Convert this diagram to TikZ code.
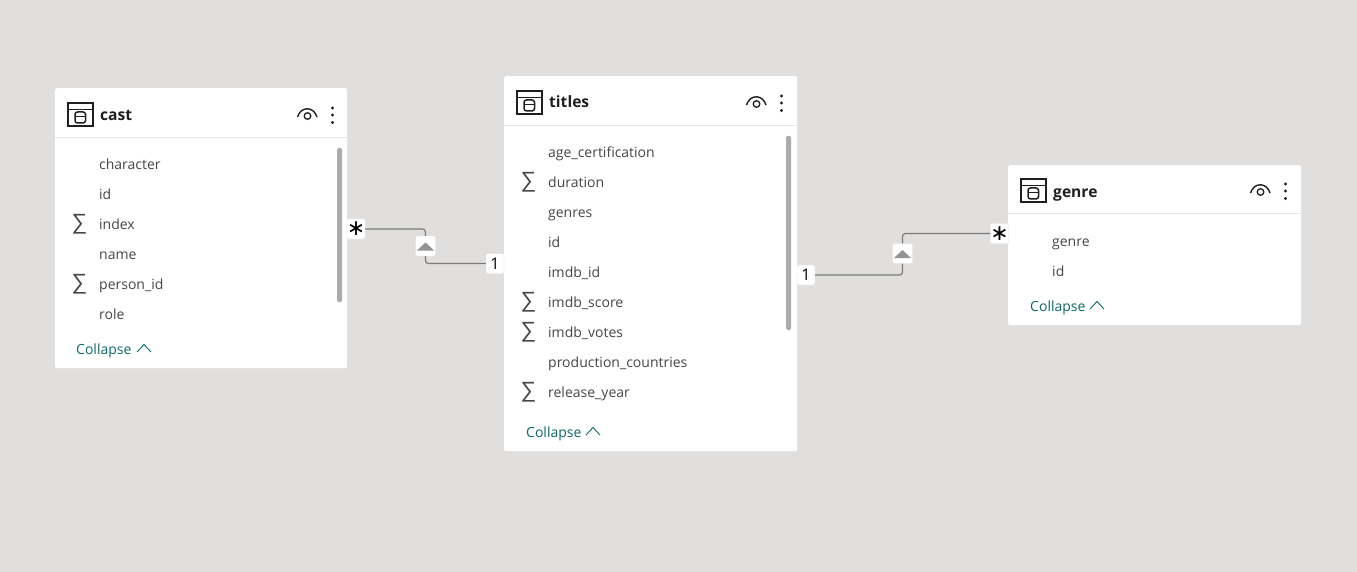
\documentclass[tikz,border=0pt]{standalone}
\usepackage{fontspec}
\setmainfont{Open Sans}
\newfontfamily\symfont{DejaVu Sans}
\newfontfamily\sumfont{Liberation Sans}
\definecolor{canvasgray}{HTML}{E1DFDD}
\definecolor{rowtext}{HTML}{484644}
\definecolor{headtext}{HTML}{201F1E}
\definecolor{linkteal}{HTML}{0E6A68}
\definecolor{barGray}{HTML}{ABABAB}
\definecolor{relgray}{HTML}{7A7A7A}
\tikzset{
  card/.style={fill=white, rounded corners=2pt, anchor=north west, inner sep=0pt},
  headlabel/.style={anchor=west, text=headtext, font=\fontsize{15.6}{18}\selectfont\bfseries, inner sep=0pt, text height=11pt, text depth=3pt},
  rowlabel/.style={anchor=west, text=rowtext, font=\fontsize{14}{16}\selectfont, inner sep=0pt, text height=10pt, text depth=3pt},
  sumlabel/.style={text=rowtext, font=\sumfont\fontsize{22}{24}\selectfont, inner sep=0pt},
  collapselabel/.style={anchor=west, text=linkteal, font=\fontsize{14}{16}\selectfont, inner sep=0pt, text height=10pt, text depth=3pt},
  endbadge/.style={fill=white, draw=black!12, line width=0.3pt, rounded corners=2pt, minimum width=18pt, minimum height=20pt, inner sep=0pt, text=black},
  filterbadge/.style={fill=white, draw=black!12, line width=0.3pt, rounded corners=2pt, minimum width=20pt, minimum height=20pt, inner sep=0pt},
  relline/.style={draw=relgray, line width=1.2pt, rounded corners=3pt}
}
\begin{document}
\begin{tikzpicture}[x=1pt,y=-1pt]
\useasboundingbox (0,0) rectangle (1357,572);
\fill[canvasgray] (0,0) rectangle (1357,572);
\node[card, minimum width=292pt, minimum height=280pt] (cast) at (55,88) {};
\node[card, minimum width=293pt, minimum height=375pt] (titles) at (504,76) {};
\node[card, minimum width=293pt, minimum height=160pt] (genre) at (1008,165) {};
% header rules, scroll bars
\draw[black!10] (55,137.5) -- (347,137.5);\draw[black!10] (504,125.5) -- (797,125.5);\draw[black!10] (1008,213.5) -- (1301,213.5);
\fill[barGray, rounded corners=1.5pt] (337,148) rectangle (342,302);\fill[barGray, rounded corners=1.5pt] (786,136) rectangle (791,330);
% table icons, eyes, dots
\foreach \x/\y in {68/103.5,517/91.5,1021/179.5} {
  \draw[headtext, line width=2pt] (\x,\y) rectangle (\x+24.5,\y+22.5);\draw[headtext, line width=1.6pt] (\x,\y+6) -- (\x+24.5,\y+6);
  \draw[headtext, line width=1.5pt, rounded corners=2.5pt] (\x+7,\y+8.5) rectangle (\x+17.5,\y+19.5);\draw[headtext, line width=1.2pt] (\x+7,\y+13) -- (\x+17.5,\y+13);
  \draw[headtext, line width=1.4pt] (\x+229.5,\y+13.5) .. controls (\x+233,\y+2.5) and (\x+245.5,\y+2.5) .. (\x+249,\y+13.5);
  \draw[headtext, line width=1.3pt] (\x+239.5,\y+12.5) circle (3.3);
  \foreach \d in {4.5,11.5,19} {\fill[headtext] (\x+264.5,\y+\d) circle (1.6);}
}
\node[headlabel] (casthead) at (100,117) {cast};\node[headlabel] (titleshead) at (549,104) {titles};\node[headlabel] (genrehead) at (1053,193) {genre};
% rows
\foreach \y/\t in {166/character,196/id,226/index,256/name,286/person\_id,316/role} {\node[rowlabel] (castrow\y) at (99,\y) {\t};}
\foreach \y/\t in {154/age\_certification,184/duration,214/genres,244/id,274/imdb\_id,304/imdb\_score,334/imdb\_votes,364/production\_countries,394/release\_year} {\node[rowlabel] (titlesrow\y) at (548,\y) {\t};}
\foreach \y/\t in {243/genre,273/id} {\node[rowlabel] (genrerow\y) at (1052,\y) {\t};}
\foreach \y in {224,284} {\node[sumlabel] (castsum\y) at (79.5,\y) {∑};}
\foreach \y in {182,302,332,392} {\node[sumlabel] (titlessum\y) at (528.5,\y) {∑};}
% collapse links
\node[collapselabel] (castcollapse) at (76,351) {Collapse};\node[collapselabel] (titlescollapse) at (526,434) {Collapse};\node[collapselabel] (genrecollapse) at (1030,308) {Collapse};
\foreach \x/\y in {137/352,586/435,1090/309} {\draw[linkteal, line width=0.9pt] (\x,\y) -- (\x+7,\y-7.5) -- (\x+14,\y);}
% relationships
\node[endbadge, font=\symfont\fontsize{22}{22}\selectfont] (castmany) at (356,229) {∗};
\node[endbadge, font=\fontsize{16}{16}\selectfont] (titlesone) at (495,263.5) {1};
\node[endbadge, font=\fontsize{16}{16}\selectfont] (titlesoneb) at (806,275) {1};
\node[endbadge, font=\symfont\fontsize{22}{22}\selectfont] (genremany) at (999.5,233.5) {∗};
\node[filterbadge] (castfilter) at (425.5,246) {};
\node[filterbadge] (genrefilter) at (902.5,253.5) {};
\fill[gray!85] (417,250.5) -- (425.5,242.5) -- (434,250.5) -- cycle;\fill[gray!85] (894,258) -- (902.5,250) -- (911,258) -- cycle;
\draw[relline] (castmany.east) -| (castfilter.north);\draw[relline] (castfilter.south) |- (titlesone.west);
\draw[relline] (titlesoneb.east) -| (genrefilter.south);\draw[relline] (genrefilter.north) |- (genremany.west);
\end{tikzpicture}
\end{document}
